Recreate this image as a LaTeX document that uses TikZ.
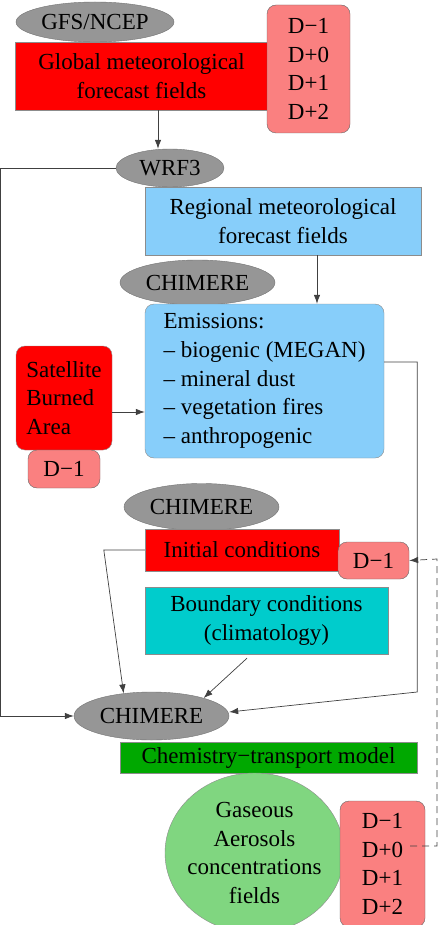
\documentclass[tikz,border=0pt]{standalone}
\usepackage{fontspec}
\setmainfont{LiberationSerif}[Extension=.ttf,UprightFont=*-Regular,BoldFont=*-Bold]
\usepackage{tikz}
\usetikzlibrary{shapes.geometric}
\usetikzlibrary{arrows.meta}
\definecolor{boxred}{RGB}{255,0,0}
\definecolor{daypink}{RGB}{250,128,128}
\definecolor{modelgray}{RGB}{150,150,150}
\definecolor{metblue}{RGB}{135,206,250}
\definecolor{bndcyan}{RGB}{0,204,204}
\definecolor{ctmgreen}{RGB}{0,168,0}
\definecolor{concgreen}{RGB}{128,214,128}

\begin{document}
\begin{tikzpicture}[x=1pt,y=-1pt,
    font=\fontsize{23}{28.7}\selectfont,
    model/.style={ellipse,draw=black!55,fill=modelgray,inner sep=0pt},
    field/.style={rectangle,draw=black!45,inner sep=0pt,align=center},
    days/.style={rectangle,rounded corners=9pt,draw=black!60,fill=daypink,inner sep=0pt,align=center},
    link/.style={draw=black!75,line width=0.7pt},
    arr/.style={link,-{Latex[length=9pt,width=6.5pt]}}]
    \useasboundingbox (0,0) rectangle (440,925);
    \node[model,minimum width=158,minimum height=40] (gfs) at (95,22) {GFS/NCEP};
    \node[field,fill=boxred,minimum width=253,minimum height=68] (global) at (141.5,76)
      {Global meteorological\\forecast fields};
    \node[days,minimum width=83,minimum height=128] (dglob) at (308.5,69)
      {D−1\\D+0\\D+1\\D+2};
    \node[model,minimum width=108,minimum height=38] (wrf) at (170,168) {WRF3};
    \node[field,fill=metblue,minimum width=276,minimum height=68] (regional) at (283,221)
      {Regional meteorological\\forecast fields};
    \node[model,minimum width=155,minimum height=45] (chim1) at (197.5,282.5) {CHIMERE};
    \node[field,fill=metblue,rounded corners=9pt,align=left,minimum width=239,minimum height=154] (emis) at (264.5,381)
      {Emissions:\\– biogenic (MEGAN)\\– mineral dust\\– vegetation fires\\– anthropogenic};
    \node[field,fill=boxred,rounded corners=9pt,align=left,minimum width=96,minimum height=104] (sat) at (64,398)
      {Satellite\\Burned\\Area};
    \node[days,minimum width=72,minimum height=38] (dsat) at (64,469) {D−1};
    \node[model,minimum width=155,minimum height=47] (chim2) at (201.5,507) {CHIMERE};
    \node[field,fill=boxred,minimum width=194,minimum height=42] (init) at (242,550) {Initial conditions};
    \node[days,minimum width=71,minimum height=37] (dinit) at (373.5,560.5) {D−1};
    \node[field,fill=bndcyan,minimum width=243,minimum height=67] (bound) at (266.5,620.5)
      {Boundary conditions\\(climatology)};
    \node[model,minimum width=155,minimum height=48] (chim3) at (151.5,716) {CHIMERE};
    \node[field,fill=ctmgreen,minimum width=297,minimum height=31] (ctm) at (268.5,757.5)
      {Chemistry−transport model};
    \node[ellipse,draw=black!45,fill=concgreen,inner sep=-12pt,align=center,minimum width=179,minimum height=160] (conc) at (254.5,853)
      {Gaseous\\Aerosols\\concentrations\\fields};
    \node[days,minimum width=85,minimum height=126] (dconc) at (382.5,864)
      {D−1\\D+0\\D+1\\D+2};
    \coordinate (d0) at (410,846);

    \draw[arr] ([xshift=16.5pt]global.south) -- ([xshift=-12pt]wrf.north);
    \draw[arr] (wrf.west) -- ++(-115,0) |- (chim3.west);
    \draw[arr] ([xshift=34pt]regional.south) -- ([xshift=52.5pt]emis.north);
    \draw[arr] ([yshift=-14pt]sat.east) -- ([yshift=-31pt]emis.west);
    \draw[arr] ([yshift=19pt]emis.east) -- ++(33,0) -- ++(0,330) -- ([yshift=4pt]chim3.east);
    \draw[arr] (init.west) -- ++(-41,0) -- (chim3.141);
    \draw[arr] ([xshift=-19.5pt,yshift=-4pt]bound.south) -- (chim3.19);
    \draw[arr,dash pattern=on 7pt off 5pt] (d0) -- ++(27,0) -- ++(0,-287) -- (dinit.east);
\end{tikzpicture}
\end{document}
